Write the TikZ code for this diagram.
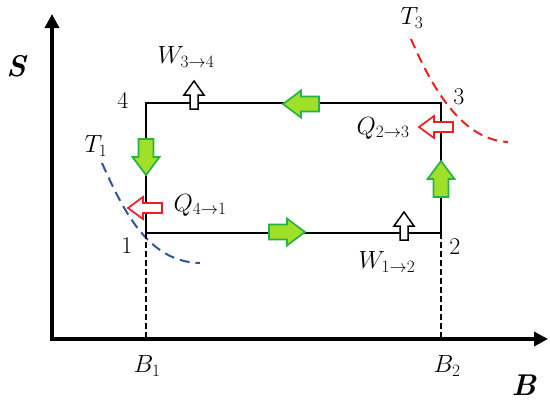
\documentclass[tikz,border=0pt]{standalone}
\usepackage{amsmath}
\usetikzlibrary{arrows.meta}
\definecolor{gfill}{RGB}{160,224,40}
\definecolor{gline}{RGB}{40,178,70}
\definecolor{rline}{RGB}{240,30,30}
\definecolor{bline}{RGB}{47,85,151}
\tikzset{
  barrow/.pic={
    \path[pic actions] (0,-\bb) -- (\bl-\hl,-\bb) -- (\bl-\hl,-\hh) -- (\bl,0)
      -- (\bl-\hl,\hh) -- (\bl-\hl,\bb) -- (0,\bb) -- cycle;
  },
  greenarrow/.style={fill=gfill, draw=gline, line width=1.7pt,
    /utils/exec={\def\bl{36}\def\hl{18}\def\hh{13.5}\def\bb{7.5}}},
  redarrow/.style={fill=white, draw=rline, line width=1.7pt,
    /utils/exec={\def\bl{34}\def\hl{15}\def\hh{11}\def\bb{5}}},
  workarrow/.style={fill=white, draw=black, line width=1.5pt,
    /utils/exec={\def\bl{28}\def\hl{14}\def\hh{10}\def\bb{4}}},
  cyc/.style={line width=2pt, line join=miter},
  axisline/.style={line width=4pt, -{Triangle[length=14pt,width=14pt]}},
  dropline/.style={line width=2.4pt, dash pattern=on 6pt off 3pt},
  isotherm/.style={line width=2pt, dash pattern=on 10pt off 6pt},
  lab/.style={inner sep=0pt, font=\fontsize{27}{30}\selectfont},
  num/.style={inner sep=0pt, font=\fontsize{24}{28}\selectfont},
  axlab/.style={inner sep=0pt, font=\fontsize{30}{34}\selectfont\bfseries\itshape},
}
\begin{document}
\begin{tikzpicture}[x=1pt,y=-1pt]
\useasboundingbox (0,0) rectangle (550,402);
% axes
\coordinate (O) at (52,339);
\coordinate (Ytop) at (52,14);
\coordinate (Xend) at (548,339);
\draw[axisline] (O) -- (Ytop);
\draw[axisline] ([xshift=-2pt]O) -- (Xend);
% state points
\coordinate (p1) at (146,233);
\coordinate (p2) at (441,233);
\coordinate (p3) at (441,103);
\coordinate (p4) at (146,103);
\coordinate (b1) at (146,339);
\coordinate (b2) at (441,339);
% isotherms
\draw[isotherm, bline] (102,163) .. controls (125,215) and (150,262) .. (200,263);
\draw[isotherm, rline] (411,39) .. controls (435,95) and (465,140) .. (508,142);
% drop lines
\draw[dropline] (p1) -- (b1);
\draw[dropline] (p2) -- (b2);
% cycle
\draw[cyc] (p1) -- (p2) -- (p3) -- (p4) -- cycle;
% green process arrows
\pic[greenarrow, rotate=180] at (319,104) {barrow};
\pic[greenarrow, rotate=-90] at (146,139) {barrow};
\pic[greenarrow] at (269,232) {barrow};
\pic[greenarrow, rotate=90] at (441,197) {barrow};
% heat arrows
\pic[redarrow, rotate=180] at (453,127) {barrow};
\pic[redarrow, rotate=180] at (162,208) {barrow};
% work arrows
\pic[workarrow, rotate=90] at (194,109) {barrow};
\pic[workarrow, rotate=90] at (404,240) {barrow};
% labels
\node[axlab] (S) at (16,66) {S};
\node[axlab, anchor=base] (B) at (524,395) {B};
\node[lab] (lb1) at (147,366) {$B_1$};
\node[lab] (lb2) at (447,366) {$B_2$};
\node[num] (n1) at (127,246) {1};
\node[num] (n2) at (455,247) {2};
\node[num] (n3) at (459,97) {3};
\node[num] (n4) at (123,100) {4};
\node[lab] (w34) at (186,57) {$W_{3\to 4}$};
\node[lab] (w12) at (387,262) {$W_{1\to 2}$};
\node[lab] (q23) at (383,128) {$Q_{2\to 3}$};
\node[lab] (q41) at (200,205) {$Q_{4\to 1}$};
\node[lab] (t1) at (96,146) {$T_1$};
\node[lab] (t3) at (412,18) {$T_3$};
\end{tikzpicture}
\end{document}
